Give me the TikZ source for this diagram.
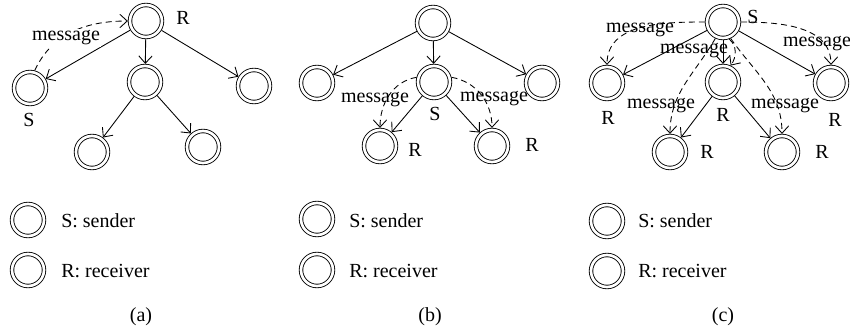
\documentclass[tikz,border=0pt]{standalone}
\usepackage{fontspec}
\setmainfont{Liberation Serif}
\usetikzlibrary{arrows.meta}
\begin{document}
\begin{tikzpicture}[x=0.75pt,y=0.75pt,
  nd/.style={circle,draw,double,double distance=2pt,line width=0.65pt,minimum size=24pt,inner sep=0pt,outer sep=1.6pt},
  edg/.style={line width=0.65pt,-{Straight Barb[length=5.5pt,width=10pt]}},
  msg/.style={edg,dash pattern=on 4.5pt off 3pt},
  lbl/.style={font=\fontsize{15}{18}\selectfont,inner sep=0pt},
  ]
\useasboundingbox (0,0) rectangle (850,-332);

% ---------------- panel (a)
\node[nd] (ra) at (146,-21) {};
\node[nd] (a1) at (30,-88) {};
\node[nd] (a2) at (145,-82) {};
\node[nd] (a3) at (254,-86) {};
\node[nd] (a4) at (92,-152) {};
\node[nd] (a5) at (203,-147) {};
\draw[edg] (ra) -- (a1);
\draw[edg] (ra) -- (a2);
\draw[edg] (ra) -- (a3);
\draw[edg] (a2) -- (a4);
\draw[edg] (a2) -- (a5);
\draw[msg] (a1.75) to[out=65,in=180] (ra.west);
\node[lbl,fill=white,inner sep=1pt] (am) at (66,-38) {message};
\node[lbl] (aR) at (183,-18) {R};
\node[lbl] (aS) at (29,-120) {S};
% legend (a)
\node[nd] (al1) at (28,-220) {};
\node[nd] (al2) at (28,-270) {};
\node[lbl,anchor=west] (alt1) at (61,-221) {S: sender};
\node[lbl,anchor=west] (alt2) at (61,-271) {R: receiver};
\node[lbl] (acap) at (141,-317) {(a)};

% ---------------- panel (b)
\node[nd] (rb) at (433,-23) {};
\node[nd] (b1) at (317,-83) {};
\node[nd] (b2) at (434,-82) {};
\node[nd] (b3) at (542,-83) {};
\node[nd] (b4) at (380,-146) {};
\node[nd] (b5) at (492,-146) {};
\draw[edg] (rb) -- (b1);
\draw[edg] (rb) -- (b2);
\draw[edg] (rb) -- (b3);
\draw[edg] (b2) -- (b4);
\draw[edg] (b2) -- (b5);
\draw[msg] (b2.165) to[out=190,in=90] (b4.north);
\draw[msg] (b2.15) to[out=-10,in=90] (b5.north);
\node[lbl] (bm1) at (375,-100) {message};
\node[lbl] (bm2) at (494,-99) {message};
\node[lbl] (bS) at (435,-114) {S};
\node[lbl] (bR1) at (415,-150) {R};
\node[lbl] (bR2) at (532,-145) {R};
% legend (b)
\node[nd] (bl1) at (317,-219) {};
\node[nd] (bl2) at (317,-270) {};
\node[lbl,anchor=west] (blt1) at (349,-221) {S: sender};
\node[lbl,anchor=west] (blt2) at (349,-271) {R: receiver};
\node[lbl] (bcap) at (430,-317) {(b)};

% ---------------- panel (c)
\node[nd] (rc) at (723,-22) {};
\node[nd] (c1) at (607,-83) {};
\node[nd] (c2) at (723,-82) {};
\node[nd] (c3) at (831,-83) {};
\node[nd] (c4) at (670,-152) {};
\node[nd] (c5) at (782,-152) {};
\draw[edg] (rc) -- (c1);
\draw[edg] (rc) -- (c2);
\draw[edg] (rc) -- (c3);
\draw[edg] (c2) -- (c4);
\draw[edg] (c2) -- (c5);
\draw[msg] (rc.west) to[out=180,in=90] (c1.north);
\draw[msg] (rc.east) to[out=0,in=90] (c3.north);
\draw[msg] (rc.-70) to[out=-40,in=55] (c2.65);
\draw[msg] (rc.-115) to[out=-120,in=90] (c4.north);
\draw[msg] (rc.-65) to[out=-55,in=90] (c5.north);
\node[lbl] (cm1) at (640,-30) {message};
\node[lbl] (cm2) at (694,-51) {message};
\node[lbl] (cm3) at (817,-44) {message};
\node[lbl] (cm4) at (661,-106) {message};
\node[lbl] (cm5) at (785,-106) {message};
\node[lbl] (cS) at (753,-17) {S};
\node[lbl] (cR1) at (608,-118) {R};
\node[lbl] (cR2) at (723,-115) {R};
\node[lbl] (cR3) at (835,-120) {R};
\node[lbl] (cR4) at (707,-152) {R};
\node[lbl] (cR5) at (822,-152) {R};
% legend (c)
\node[nd] (cl1) at (607,-221) {};
\node[nd] (cl2) at (607,-271) {};
\node[lbl,anchor=west] (clt1) at (638,-221) {S: sender};
\node[lbl,anchor=west] (clt2) at (638,-271) {R: receiver};
\node[lbl] (ccap) at (723,-317) {(c)};
\end{tikzpicture}
\end{document}
